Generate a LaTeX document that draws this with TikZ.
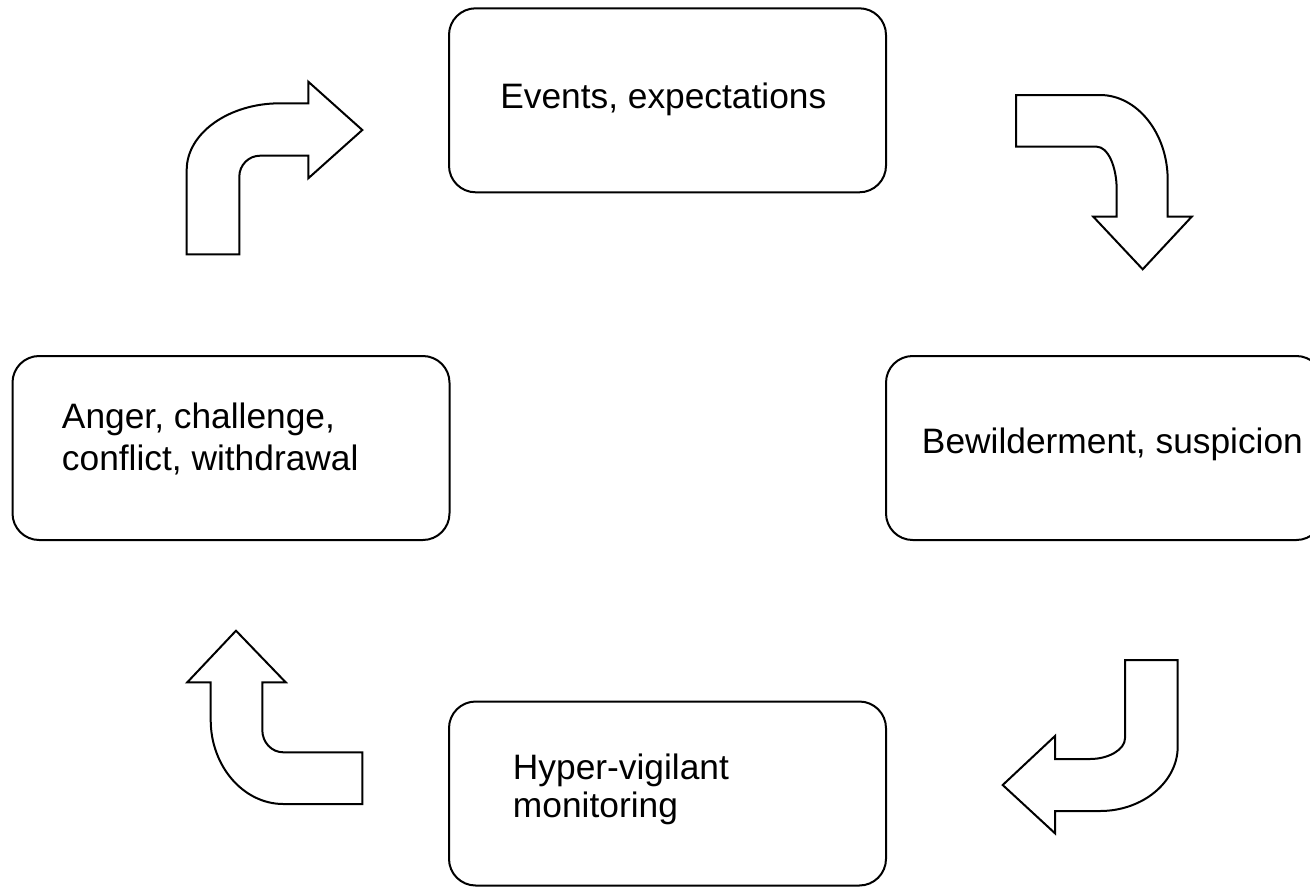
\documentclass[tikz,border=0pt]{standalone}
\usepackage{fontspec}
\setmainfont{Liberation Sans}
\begin{document}
\begin{tikzpicture}[x=0.75pt,y=-0.75pt]
	\tikzstyle{box}=[draw=black,line width=1.5pt,rounded corners=20pt,minimum width=327.75pt,minimum height=138pt]
	\tikzstyle{txt}=[inner sep=0pt,align=left,font=\fontsize{26.5}{31.8}\selectfont]
	\tikzstyle{bent}=[draw=black,line width=1.5pt,fill=white]
	\useasboundingbox (0,0) rectangle (1310,886);
	\clip (0,0) rectangle (1310,886);
	% the four stages
	\node[box](ev) at (667.5,100.3) {};
	\node[box](bw) at (1104.5,448) {};
	\node[box](hv) at (667.5,793.5) {};
	\node[box](ag) at (231,448) {};
	\node[txt,anchor=base west](evt) at (500,108.3) {Events, expectations};
	\node[txt,anchor=base west](bwt) at (921.7,453.3) {Bewilderment, suspicion};
	\node[txt,anchor=base west](hvt) at (512.7,817.3) {Hyper-vigilant\\[-3.8pt]monitoring};
	\node[txt,anchor=base west](agt) at (61.7,470.7) {Anger, challenge,\\conflict, withdrawal};
	% bent arrows
	\draw[bent] (186.7,254.3) -- (186.7,170) .. controls +(0,-37) and +(-51,0) .. (280,103.3)
		-- (308.3,103.3) -- (308.3,81.7) -- (362.3,130) -- (308.3,178.3) -- (308.3,155.7) -- (260,155.7)
		.. controls +(-11.5,0) and +(0,-11.5) .. (239.3,176.7) -- (239.3,254.3) -- cycle;
	\draw[bent] (1016,95) -- (1100,95) .. controls +(37,0) and +(0,-47) .. (1167.7,180)
		-- (1167.7,216.7) -- (1191.7,216.7) -- (1142.7,269.3) -- (1093.3,216.7) -- (1116.7,216.7) -- (1116.7,190)
		.. controls +(0,-24) and +(11,0) .. (1096.7,146.7) -- (1016,146.7) -- cycle;
	\draw[bent] (1125,660) -- (1177.7,660) -- (1177.7,746.7) .. controls +(0,35) and +(43,0) .. (1100,811)
		-- (1055,811) -- (1055,833.3) -- (1002.7,785) -- (1055,736) -- (1055,759) -- (1090,759)
		.. controls +(19,0) and +(0,11) .. (1125,738.3) -- cycle;
	\draw[bent] (236,630.7) -- (285.7,682.3) -- (262.3,682.3) -- (262.3,730)
		.. controls +(0,12) and +(-12,0) .. (283.3,752.3) -- (362.3,752.3) -- (362.3,804) -- (283.3,804)
		.. controls +(-40,0) and +(0,46) .. (210.7,720) -- (210.7,682.3) -- (187.3,682.3) -- cycle;
\end{tikzpicture}
\end{document}
